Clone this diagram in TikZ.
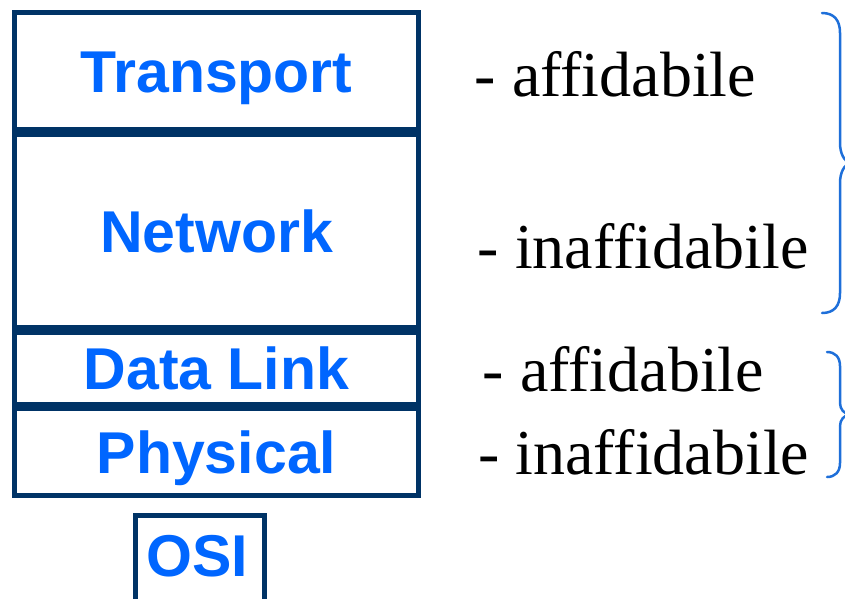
\documentclass[tikz,border=0pt]{standalone}
\usepackage{fontspec}
\newfontfamily\layerfont{Liberation Sans}
\newfontfamily\notefont{Liberation Serif}
\definecolor{framenavy}{HTML}{003366}
\definecolor{layerblue}{HTML}{0066FF}
\definecolor{braceblue}{HTML}{1E6FD9}
\tikzset{
  layerbox/.style={draw=framenavy, line width=5pt, fill=white, rectangle,
    inner sep=0pt, minimum width=404pt, text height=42pt, text depth=0pt,
    font=\layerfont\bfseries\fontsize{59}{59}\selectfont, text=layerblue},
  osibox/.style={draw=framenavy, line width=5pt, rectangle, inner sep=0pt,
    minimum width=129.5pt, minimum height=120pt},
  layerlabel/.style={inner sep=0pt, text height=42pt, text depth=0pt,
    font=\layerfont\bfseries\fontsize{59}{59}\selectfont, text=layerblue},
  note/.style={anchor=base west, inner sep=0pt,
    font=\notefont\fontsize{64}{64}\selectfont, text=black},
  bracepath/.style={draw=braceblue, line width=2.5pt, line cap=round, line join=round}
}
\begin{document}
\begin{tikzpicture}[x=1pt, y=-1pt]
  \useasboundingbox (0,0) rectangle (845,598);
  \clip (0,0) rectangle (845,598);

  % protocol stack
  \node[layerbox, minimum height=117pt]  (transport) at (216.5,71)    {Transport};
  \node[layerbox, minimum height=193pt]  (network)   at (216.5,231)   {Network};
  \node[layerbox, minimum height=71.5pt] (datalink)  at (216.5,368.25) {Data Link};
  \node[layerbox, minimum height=87pt]   (physical)  at (216.5,452)   {Physical};

  % model name below the stack
  \node[osibox] (osiframe) at (199.75,575) {};
  \node[layerlabel] (osi) at (197,555.5) {OSI};

  % reliability notes
  \node[note] (n1) at (474.5,96)  {- affidabile};
  \node[note] (n2) at (477.5,268) {- inaffidabile};
  \node[note] (n3) at (482.5,391) {- affidabile};
  \node[note] (n4) at (478,474)   {- inaffidabile};

  % braces grouping the notes
  \draw[bracepath] (822,13) .. controls (834,13) and (840,20) .. (840,33)
    -- (840,143) .. controls (840,153) and (844,162) .. (851,163)
    .. controls (844,164) and (840,173) .. (840,183)
    -- (840,293) .. controls (840,306) and (834,313) .. (822,313);
  \draw[bracepath] (827,352) .. controls (835,352) and (840,357) .. (840,366)
    -- (840,403) .. controls (840,409) and (844,414) .. (850,414.5)
    .. controls (844,415) and (840,420) .. (840,426)
    -- (840,463) .. controls (840,472) and (835,477) .. (827,477);
\end{tikzpicture}
\end{document}
